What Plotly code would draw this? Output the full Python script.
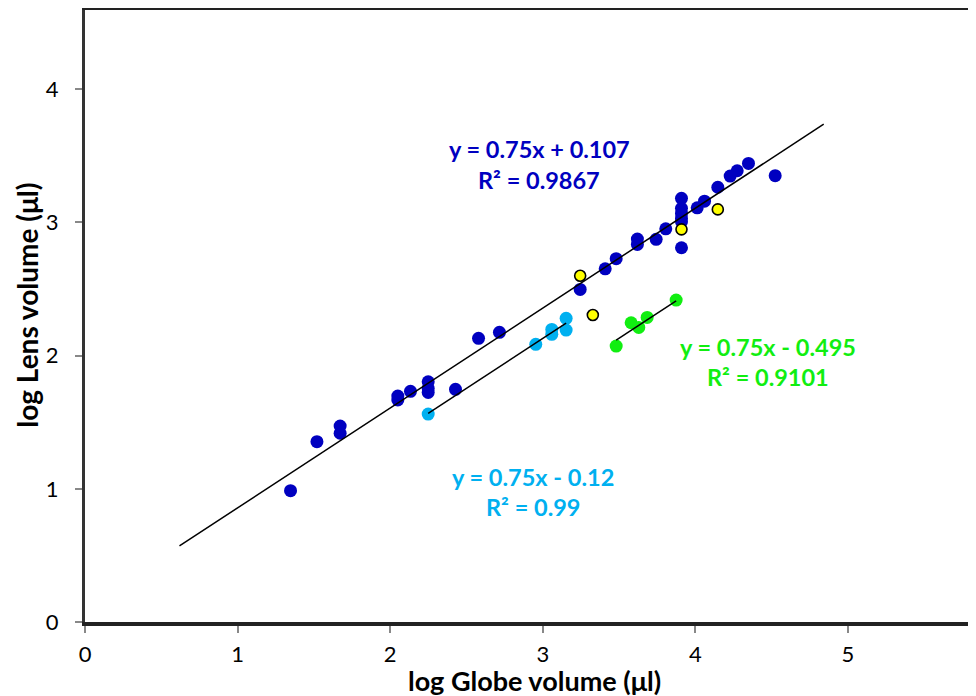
import plotly.graph_objects as go

# log globe volume (x) / log lens volume (y)
dark_x = [1.347, 1.52, 1.672, 1.672, 2.05, 2.05, 2.133, 2.249, 2.249, 2.249, 2.428,
          2.579, 2.716, 3.245, 3.409, 3.481, 3.62, 3.62, 3.743, 3.806,
          3.909, 3.909, 3.909, 3.909, 3.909, 3.909, 4.012, 4.06, 4.147,
          4.228, 4.274, 4.348, 4.523]
dark_y = [0.986, 1.354, 1.471, 1.417, 1.697, 1.667, 1.732, 1.804, 1.754, 1.724, 1.747,
          2.13, 2.175, 2.497, 2.652, 2.728, 2.875, 2.835, 2.873, 2.952,
          3.181, 3.106, 3.068, 3.03, 3.005, 2.81, 3.11, 3.16, 3.264,
          3.348, 3.388, 3.443, 3.351]

light_x = [2.249, 2.954, 3.059, 3.059, 3.153, 3.153]
light_y = [1.561, 2.085, 2.197, 2.16, 2.28, 2.192]

green_x = [3.481, 3.579, 3.629, 3.684, 3.874]
green_y = [2.072, 2.247, 2.212, 2.287, 2.417]

yellow_x = [3.245, 3.328, 3.909, 4.147]
yellow_y = [2.6, 2.305, 2.948, 3.098]

# trendlines y = a*x + b, drawn between these x limits
slope = 0.75
dark_fit = (0.107, [0.619, 4.841])
light_fit = (-0.12, [2.249, 3.153])
green_fit = (-0.495, [3.481, 3.874])

DARK = "#0000C0"
LIGHT = "#00B0F0"
GREEN = "#11EE11"
FONT = "Lato"

fig = go.Figure()

for xs, ys, col in [(dark_x, dark_y, DARK), (light_x, light_y, LIGHT), (green_x, green_y, GREEN)]:
    fig.add_trace(go.Scatter(x=xs, y=ys, mode="markers",
                             marker=dict(color=col, size=13, line=dict(width=0))))

for b, xs in [dark_fit, light_fit, green_fit]:
    fig.add_trace(go.Scatter(x=xs, y=[slope * v + b for v in xs], mode="lines",
                             line=dict(color="black", width=1.5)))

fig.add_trace(go.Scatter(x=yellow_x, y=yellow_y, mode="markers",
                         marker=dict(color="#FFFF00", size=11, line=dict(color="black", width=1.6))))

labels = [
    ("y = 0.75x + 0.107", 2.978, 3.551, DARK),
    ("R² = 0.9867", 2.978, 3.318, DARK),
    ("y = 0.75x - 0.12", 2.935, 1.091, LIGHT),
    ("R² = 0.99", 2.935, 0.866, LIGHT),
    ("y = 0.75x - 0.495", 4.477, 2.062, GREEN),
    ("R² = 0.9101", 4.477, 1.837, GREEN),
]
for txt, x, y, col in labels:
    fig.add_annotation(x=x, y=y, text="<b>" + txt + "</b>", showarrow=False,
                       font=dict(family=FONT, size=23.5, color=col),
                       xanchor="center", yanchor="middle")

# axis titles placed by hand
fig.add_annotation(x=0.505, y=-0.095, xref="paper", yref="paper", showarrow=False,
                   text="<b>log Globe volume (μl)</b>", font=dict(size=27, family=FONT),
                   xanchor="center", yanchor="middle")
fig.add_annotation(x=-0.065, y=0.517, xref="paper", yref="paper", showarrow=False,
                   text="<b>log Lens volume (μl)</b>", font=dict(size=28, family=FONT),
                   textangle=-90, xanchor="center", yanchor="middle")

# page body has an 8px margin, so the figure is a bit smaller than the window
fig.update_layout(
    width=968, height=688,
    margin=dict(l=77, r=0, t=2, b=74),
    paper_bgcolor="white", plot_bgcolor="white",
    showlegend=False,
    font=dict(family=FONT, color="black"),
)
fig.update_xaxes(
    range=[0, 5.839], tickvals=[0, 1, 2, 3, 4, 5], showgrid=False, zeroline=False,
    showline=True, linecolor="#222", linewidth=4, mirror=True, automargin=False,
    ticks="outside", ticklen=7, tickcolor="#888", tickwidth=1.5,
    tickfont=dict(size=22, family=FONT), ticklabelstandoff=3,
)
fig.update_yaxes(
    range=[0, 4.595], tickvals=[0, 1, 2, 3, 4], showgrid=False, zeroline=False,
    showline=True, linecolor="#333", linewidth=3, automargin=False,
    ticks="outside", ticklen=7, tickcolor="#888", tickwidth=1.5,
    tickfont=dict(size=22, family=FONT), ticklabelstandoff=12,
)

fig.write_html("out.html")
